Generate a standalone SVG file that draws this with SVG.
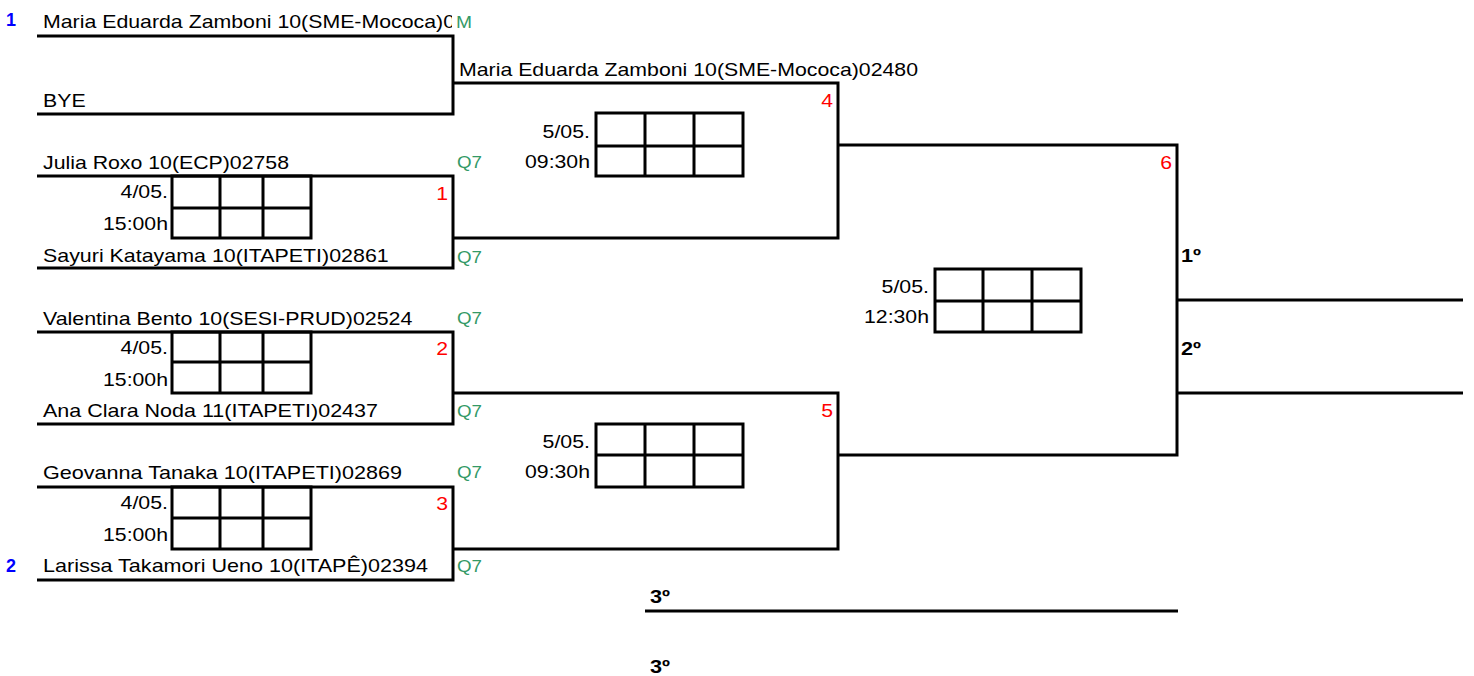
<svg xmlns="http://www.w3.org/2000/svg" width="1474" height="676" viewBox="0 0 1474 676">
<style>
text{font-family:"Liberation Sans",Arial,sans-serif}
.n{font-size:18.6px;fill:#000}
.d{font-size:18.6px;fill:#000;text-anchor:end}
.r{font-size:18.6px;fill:#ff0000;text-anchor:end}
.q{font-size:16.5px;fill:#339966}
.s{font-size:19px;font-weight:bold;fill:#0000ff}
.p{font-size:19px;font-weight:bold;fill:#000}
.ln{fill:none;stroke:#000;stroke-width:3;stroke-linejoin:miter}
.g{fill:none;stroke:#000;stroke-width:3}
</style>
<defs>
<clipPath id="c1"><rect x="0" y="0" width="452" height="40"/></clipPath>
</defs>
<rect width="1474" height="676" fill="#fff"/>
<g id="connectors">
<path class="ln" d="M37,36 H453 V114 H37"/>
<path class="ln" d="M37,176 H453 V268 H37"/>
<path class="ln" d="M37,332 H453 V424 H37"/>
<path class="ln" d="M37,487 H453 V580 H37"/>
<path class="ln" d="M453,83 H838 V238 H453"/>
<path class="ln" d="M453,393 H838 V549 H453"/>
<path class="ln" d="M838,145 H1177 V455 H838"/>
<path class="ln" d="M1177,300 H1463"/>
<path class="ln" d="M1177,393 H1463"/>
<path class="ln" d="M645,611 H1178"/>
</g>
<g id="seed1">
<text class="s" x="6" y="26" textLength="10" lengthAdjust="spacingAndGlyphs">1</text>
<text class="n" x="43" y="28" textLength="412" lengthAdjust="spacingAndGlyphs" clip-path="url(#c1)">Maria Eduarda Zamboni 10(SME-Mococa)0</text>
<text class="q" x="456" y="28" textLength="16" lengthAdjust="spacingAndGlyphs">M</text>
</g>
<g id="bye">
<text class="n" x="43" y="107" textLength="42.6" lengthAdjust="spacingAndGlyphs">BYE</text>
</g>
<g id="match1">
<text class="n" x="43" y="169" textLength="246" lengthAdjust="spacingAndGlyphs">Julia Roxo 10(ECP)02758</text>
<text class="n" x="43" y="262" textLength="345.7" lengthAdjust="spacingAndGlyphs">Sayuri Katayama 10(ITAPETI)02861</text>
<text class="q" x="457" y="168" textLength="25" lengthAdjust="spacingAndGlyphs">Q7</text>
<text class="q" x="457" y="263" textLength="25" lengthAdjust="spacingAndGlyphs">Q7</text>
<text class="r" x="448" y="200" textLength="11.8" lengthAdjust="spacingAndGlyphs">1</text>
<text class="d" x="168" y="198" textLength="47.4" lengthAdjust="spacingAndGlyphs">4/05.</text>
<text class="d" x="168" y="230" textLength="65" lengthAdjust="spacingAndGlyphs">15:00h</text>
<g class="g"><rect x="172" y="176" width="139" height="62"/><path d="M172,208 H311 M220,176 V238 M263,176 V238"/></g>
</g>
<g id="match2">
<text class="n" x="43" y="325" textLength="369.4" lengthAdjust="spacingAndGlyphs">Valentina Bento 10(SESI-PRUD)02524</text>
<text class="n" x="43" y="417" textLength="335" lengthAdjust="spacingAndGlyphs">Ana Clara Noda 11(ITAPETI)02437</text>
<text class="q" x="457" y="324" textLength="25" lengthAdjust="spacingAndGlyphs">Q7</text>
<text class="q" x="457" y="417" textLength="25" lengthAdjust="spacingAndGlyphs">Q7</text>
<text class="r" x="448" y="355" textLength="11.8" lengthAdjust="spacingAndGlyphs">2</text>
<text class="d" x="168" y="354" textLength="47.4" lengthAdjust="spacingAndGlyphs">4/05.</text>
<text class="d" x="168" y="386" textLength="65" lengthAdjust="spacingAndGlyphs">15:00h</text>
<g class="g"><rect x="172" y="332" width="139" height="61"/><path d="M172,362 H311 M220,332 V393 M263,332 V393"/></g>
</g>
<g id="match3">
<text class="n" x="43" y="479" textLength="359" lengthAdjust="spacingAndGlyphs">Geovanna Tanaka 10(ITAPETI)02869</text>
<text class="s" x="6" y="572" textLength="10" lengthAdjust="spacingAndGlyphs">2</text>
<text class="n" x="43" y="572" textLength="385" lengthAdjust="spacingAndGlyphs">Larissa Takamori Ueno 10(ITAPÊ)02394</text>
<text class="q" x="457" y="478" textLength="25" lengthAdjust="spacingAndGlyphs">Q7</text>
<text class="q" x="457" y="572" textLength="25" lengthAdjust="spacingAndGlyphs">Q7</text>
<text class="r" x="448" y="510" textLength="11.8" lengthAdjust="spacingAndGlyphs">3</text>
<text class="d" x="168" y="509" textLength="47.4" lengthAdjust="spacingAndGlyphs">4/05.</text>
<text class="d" x="168" y="541" textLength="65" lengthAdjust="spacingAndGlyphs">15:00h</text>
<g class="g"><rect x="172" y="487" width="139" height="62"/><path d="M172,518 H311 M220,487 V549 M263,487 V549"/></g>
</g>
<g id="match4">
<text class="n" x="459" y="76" textLength="459" lengthAdjust="spacingAndGlyphs">Maria Eduarda Zamboni 10(SME-Mococa)02480</text>
<text class="r" x="833" y="107" textLength="11.8" lengthAdjust="spacingAndGlyphs">4</text>
<text class="d" x="590" y="138" textLength="47.4" lengthAdjust="spacingAndGlyphs">5/05.</text>
<text class="d" x="590" y="168" textLength="65" lengthAdjust="spacingAndGlyphs">09:30h</text>
<g class="g"><rect x="596" y="113" width="147" height="63"/><path d="M596,146 H743 M645,113 V176 M694,113 V176"/></g>
</g>
<g id="match5">
<text class="r" x="833" y="417" textLength="11.8" lengthAdjust="spacingAndGlyphs">5</text>
<text class="d" x="590" y="448" textLength="47.4" lengthAdjust="spacingAndGlyphs">5/05.</text>
<text class="d" x="590" y="478" textLength="65" lengthAdjust="spacingAndGlyphs">09:30h</text>
<g class="g"><rect x="596" y="424" width="147" height="63"/><path d="M596,455 H743 M645,424 V487 M694,424 V487"/></g>
</g>
<g id="match6">
<text class="r" x="1172" y="169" textLength="11.8" lengthAdjust="spacingAndGlyphs">6</text>
<text class="d" x="929" y="293" textLength="47.4" lengthAdjust="spacingAndGlyphs">5/05.</text>
<text class="d" x="929" y="323" textLength="65" lengthAdjust="spacingAndGlyphs">12:30h</text>
<g class="g"><rect x="935" y="269" width="146" height="63"/><path d="M935,301 H1081 M983,269 V332 M1032,269 V332"/></g>
</g>
<g id="places">
<text class="p" x="1181" y="262" textLength="20" lengthAdjust="spacingAndGlyphs">1º</text>
<text class="p" x="1181" y="355" textLength="20" lengthAdjust="spacingAndGlyphs">2º</text>
<text class="p" x="650" y="603" textLength="20" lengthAdjust="spacingAndGlyphs">3º</text>
<text class="p" x="650" y="673" textLength="20" lengthAdjust="spacingAndGlyphs">3º</text>
</g>
</svg>
